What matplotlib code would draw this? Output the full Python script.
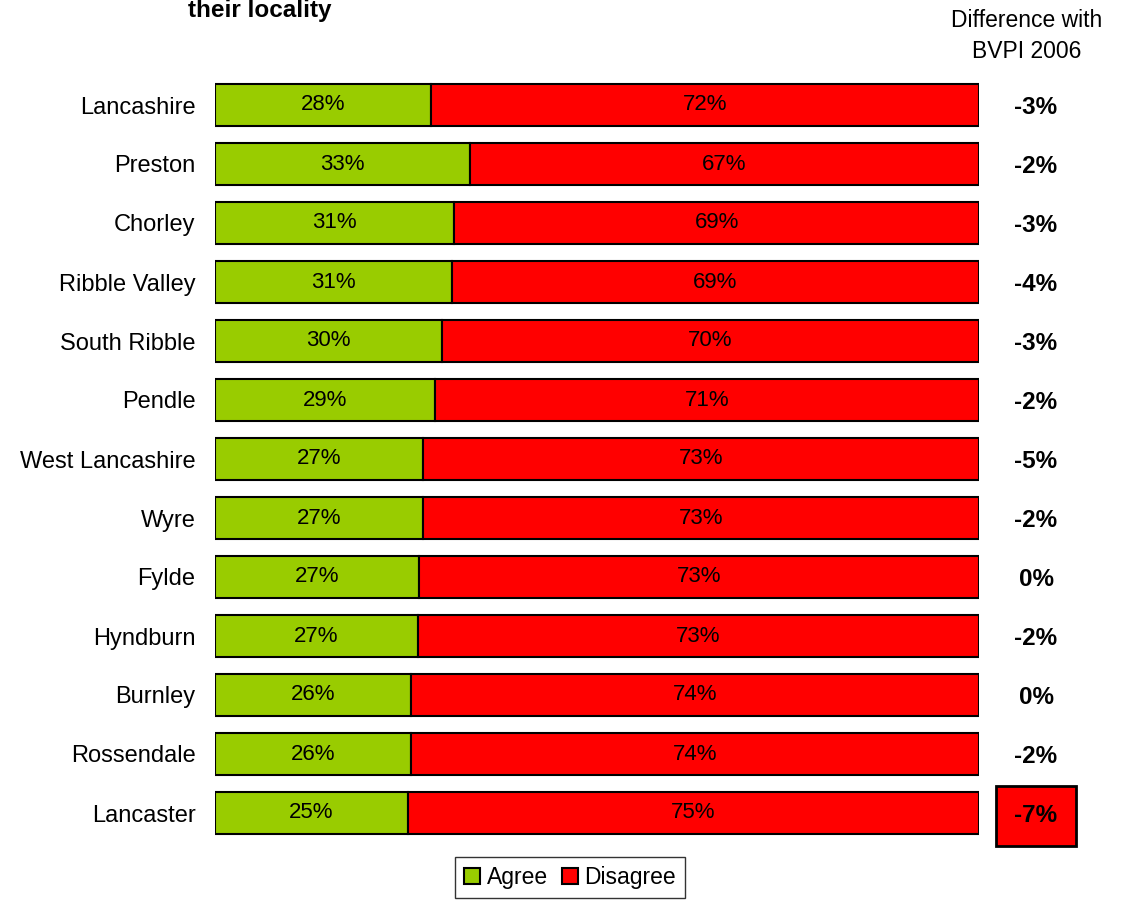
import matplotlib
matplotlib.use("Agg")
import matplotlib.pyplot as plt
from matplotlib.transforms import blended_transform_factory
import numpy as np

plt.rcParams['font.family'] = ['Liberation Sans', 'DejaVu Sans']

districts = ["Lancashire", "Preston", "Chorley", "Ribble Valley", "South Ribble",
             "Pendle", "West Lancashire", "Wyre", "Fylde", "Hyndburn",
             "Burnley", "Rossendale", "Lancaster"]
agree = [28.3, 33.4, 31.3, 31.0, 29.7, 28.8, 27.2, 27.2, 26.7, 26.6, 25.7, 25.6, 25.2]
disagree = [100 - a for a in agree]
diff_labels = ["-3%", "-2%", "-3%", "-4%", "-3%", "-2%", "-5%", "-2%", "0%", "-2%",
               "0%", "-2%", "-7%"]
highlight = "Lancaster"

green = "#99CC00"
red = "#FF0000"

W, H = 1133, 900
fig = plt.figure(figsize=(W / 100, H / 100), dpi=100)
ax = fig.add_axes([215 / W, 1 - 842.5 / H, 764 / W, 767 / H])

y = np.arange(len(districts))
bh = 0.71
ax.barh(y, agree, height=bh, color=green, edgecolor="black", linewidth=1.5, label="Agree")
ax.barh(y, disagree, left=agree, height=bh, color=red, edgecolor="black", linewidth=1.5,
        label="Disagree")

for i, (a, d) in enumerate(zip(agree, disagree)):
    ax.text(a / 2, i, f"{a:.0f}%", ha="center", va="center", fontsize=16)
    ax.text(a + d / 2, i, f"{d:.0f}%", ha="center", va="center", fontsize=16)

ax.set_xlim(0, 100)
ax.set_ylim(len(districts) - 0.5, -0.5)
ax.set_yticks(y)
ax.set_yticklabels(districts, fontsize=17)
ax.tick_params(axis="y", length=0, pad=14)
ax.set_xticks([])
for s in ax.spines.values():
    s.set_visible(False)

trans = blended_transform_factory(fig.transFigure, ax.transData)
for i, (name, lab) in enumerate(zip(districts, diff_labels)):
    if name == highlight:
        ax.text(1036 / W, i + 0.05, lab, transform=trans, ha="center", va="center",
                fontsize=17.5, fontweight="bold",
                bbox=dict(boxstyle="square,pad=0.75", facecolor=red, edgecolor="black",
                          linewidth=2))
    else:
        ax.text(1036 / W, i + 0.05, lab, transform=trans, ha="center", va="center",
                fontsize=17.5, fontweight="bold")

fig.text(1027 / W, 1 - 36 / H, "Difference with\nBVPI 2006", ha="center", va="center",
         fontsize=16.5, linespacing=1.4)
fig.text(188 / W, 1 - 17 / H, "their locality", ha="left", va="baseline",
         fontsize=17.5, fontweight="bold")

leg = fig.legend(loc="upper center", bbox_to_anchor=(570 / W, 1 - 857 / H), ncol=2,
                 fontsize=16.5, frameon=True, fancybox=False, handlelength=0.7,
                 handleheight=0.7, handletextpad=0.3, columnspacing=0.6,
                 borderpad=0.4, borderaxespad=0)
leg.get_frame().set_edgecolor("black")
leg.get_frame().set_linewidth(1)

fig.savefig("out.png", dpi=100)
